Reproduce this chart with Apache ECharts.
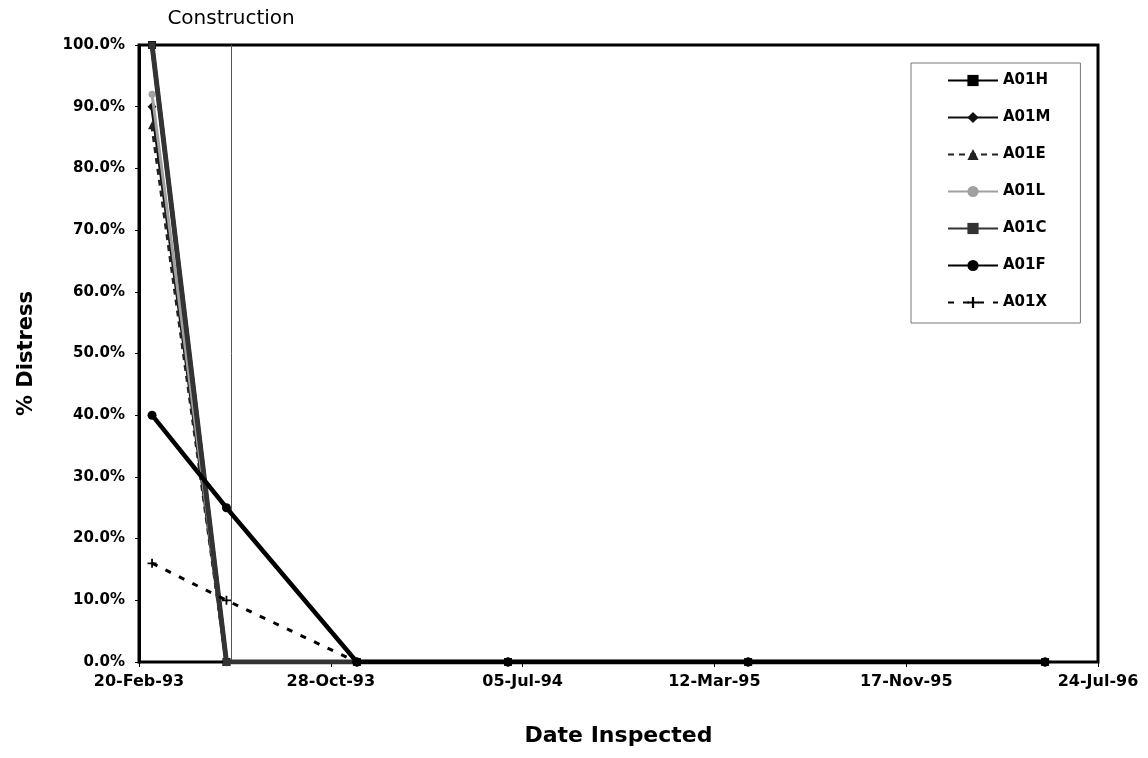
<!DOCTYPE html>
<html>
<head>
<meta charset="utf-8">
<script src="https://cdn.jsdelivr.net/npm/echarts@6/dist/echarts.min.js"></script>
<style>
html,body{margin:0;padding:0;background:#fff;}
#chart{width:1148px;height:758px;}
</style>
</head>
<body>
<div id="chart"></div>
<script>
// ---- data ----
const axisStartDate = '1993-02-20';
const xTickLabels = ['20-Feb-93', '28-Oct-93', '05-Jul-94', '12-Mar-95', '17-Nov-95', '24-Jul-96'];
const inspectionDates = ['1993-03-09', '1993-06-14', '1993-12-01', '1994-06-16', '1995-04-25', '1996-05-16'];
const constructionDate = '1993-06-20';
const seriesNames = ['A01H', 'A01M', 'A01E', 'A01L', 'A01C', 'A01F', 'A01X'];
const a01H = [100, 0, 0, 0, 0, 0];
const a01M = [90, 0, 0, 0, 0, 0];
const a01E = [87, 0, 0, 0, 0, 0];
const a01L = [92, 0, 0, 0, 0, 0];
const a01C = [100, 0, 0, 0, 0, 0];
const a01F = [40, 25, 0, 0, 0, 0];
const a01X = [16, 10, 0, 0, 0, 0];

// ---- helpers ----
function dayOffset(iso) {
  const p = iso.split('-').map(Number);
  const s = axisStartDate.split('-').map(Number);
  return Math.round((Date.UTC(p[0], p[1] - 1, p[2]) - Date.UTC(s[0], s[1] - 1, s[2])) / 86400000);
}
function pairs(vals) {
  return inspectionDates.map((d, i) => [dayOffset(d), vals[i]]);
}
const plusPath = 'path://M4,0 L6,0 L6,4 L10,4 L10,6 L6,6 L6,10 L4,10 L4,6 L0,6 L0,4 L4,4 Z';

const styles = {
  A01H: {color: '#000000', width: 4, type: 'solid', symbol: 'rect', size: 8},
  A01M: {color: '#111111', width: 3.5, type: 'solid', symbol: 'diamond', size: 9},
  A01E: {color: '#222222', width: 3.5, type: [6, 5], symbol: 'triangle', size: 8},
  A01L: {color: '#a0a0a0', width: 3, type: 'solid', symbol: 'circle', size: 7},
  A01C: {color: '#333333', width: 5, type: 'solid', symbol: 'rect', size: 7},
  A01F: {color: '#000000', width: 4.5, type: 'solid', symbol: 'circle', size: 9},
  A01X: {color: '#000000', width: 3, type: [6, 9], symbol: plusPath, size: 9}
};
const valuesByName = {A01H: a01H, A01M: a01M, A01E: a01E, A01L: a01L, A01C: a01C, A01F: a01F, A01X: a01X};

const series = seriesNames.map((name, idx) => {
  const st = styles[name];
  const s = {
    name: name,
    type: 'line',
    data: pairs(valuesByName[name]),
    symbol: st.symbol,
    symbolSize: st.size,
    showAllSymbol: true,
    lineStyle: {color: st.color, width: st.width, type: st.type},
    itemStyle: {color: st.color, borderWidth: 0},
    z: 3 + idx
  };
  if (idx === 0) {
    s.markLine = {
      silent: true,
      symbol: ['none', 'none'],
      animation: false,
      lineStyle: {color: '#555', width: 1, type: 'solid'},
      label: {
        show: true, position: 'end', formatter: 'Construction', distance: 16,
        color: '#000', fontFamily: 'DejaVu Sans', fontSize: 20
      },
      data: [{xAxis: dayOffset(constructionDate)}]
    };
  }
  return s;
});

const chart = echarts.init(document.getElementById('chart'));
chart.setOption({
  animation: false,
  backgroundColor: '#ffffff',
  grid: {left: 139, right: 50, top: 45, bottom: 96, show: true, borderColor: '#000', borderWidth: 3, backgroundColor: 'transparent'},
  legend: {
    orient: 'vertical', left: 911, top: 63,
    padding: [10, 30, 13, 36],
    itemWidth: 50, itemHeight: 14, itemGap: 22,
    borderColor: '#777', borderWidth: 1,
    backgroundColor: '#fff',
    textStyle: {fontFamily: 'DejaVu Sans', fontWeight: 'bold', fontSize: 15, color: '#000'},
    data: seriesNames
  },
  xAxis: {
    type: 'value', min: 0, max: 1250, interval: 250,
    name: 'Date Inspected', nameLocation: 'middle', nameGap: 63,
    nameTextStyle: {fontFamily: 'DejaVu Sans', fontWeight: 'bold', fontSize: 22, color: '#000'},
    axisLine: {show: true, lineStyle: {color: '#000', width: 2}},
    axisTick: {show: true, length: 5, lineStyle: {color: '#000'}},
    axisLabel: {
      margin: 12, color: '#000', fontFamily: 'DejaVu Sans', fontWeight: 'bold', fontSize: 16,
      formatter: v => xTickLabels[Math.round(v / 250)] || ''
    },
    splitLine: {show: false}
  },
  yAxis: {
    type: 'value', min: 0, max: 100, interval: 10,
    name: '% Distress', nameLocation: 'middle', nameGap: 102,
    nameTextStyle: {fontFamily: 'DejaVu Sans', fontWeight: 'bold', fontSize: 21, color: '#000'},
    axisLine: {show: true, lineStyle: {color: '#000', width: 3}},
    axisTick: {show: true, length: 4, lineStyle: {color: '#000'}},
    axisLabel: {
      margin: 14, color: '#000', fontFamily: 'DejaVu Sans', fontWeight: 'bold', fontSize: 15,
      formatter: v => v.toFixed(1) + '%'
    },
    splitLine: {show: false}
  },
  series: series
});
</script>
</body>
</html>
